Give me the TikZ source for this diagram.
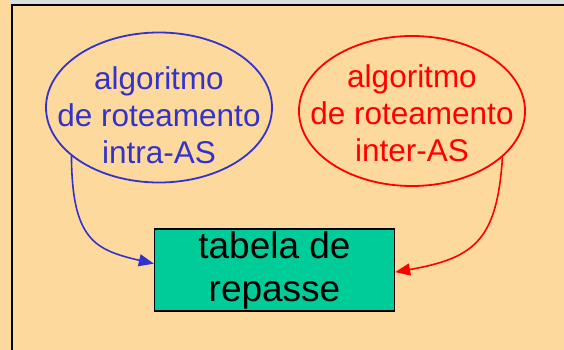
\documentclass[tikz,border=0pt]{standalone}
\usepackage{fontspec}
\setmainfont{Liberation Sans}
\usepackage{xcolor}
\usetikzlibrary{arrows.meta,positioning,shapes.geometric}

\definecolor{slidebg}{HTML}{FDD99D}
\definecolor{stripgray}{HTML}{DDDDDD}
\definecolor{intrablue}{HTML}{3333CC}
\definecolor{interred}{HTML}{FF0000}
\definecolor{tablegreen}{HTML}{00CC99}

\begin{document}
\begin{tikzpicture}[
    x=1pt, y=-1pt,
    algo/.style={draw, ellipse, line width=1.8pt, minimum width=226pt, minimum height=150pt,
                 inner xsep=-30pt, inner ysep=-10pt, align=center,
                 font=\fontsize{31.5}{37}\selectfont},
    tablebox/.style={draw, fill=tablegreen, line width=1.3pt, minimum width=240pt,
                     minimum height=82pt, inner sep=0pt, align=center,
                     font=\fontsize{37}{43}\selectfont},
    arr/.style={-{Triangle[length=15pt,width=12pt]}, line width=1.6pt}
]

%% Background and frame
\useasboundingbox (0,0) rectangle (564,350);
\fill[slidebg] (0,0) rectangle (564,350);
\fill[stripgray] (9,0) rectangle (564,3.6);
\draw[line width=2pt] (564,5.3) -- (12,5.3) -- (12,350);

%% Routing algorithms
\node[algo, draw=intrablue, text=intrablue] (intra) at (159,107.5)
  {\rule{0pt}{39pt}algoritmo\\de roteamento\\intra-AS};
\node[algo, draw=interred, text=interred] (inter) at (412,111)
  {\rule{0pt}{27pt}algoritmo\\de roteamento\\inter-AS};

%% Forwarding table
\node[tablebox] (table) at (274.5,270) {tabela de\\repasse};

%% Arrows
\draw[arr, intrablue] (intra.209) .. controls (72,240) and (95,250) .. (table.177.6);
\draw[arr, interred] (inter.-27) .. controls (497,240) and (475,258) .. (table.-1.4);

\end{tikzpicture}
\end{document}
